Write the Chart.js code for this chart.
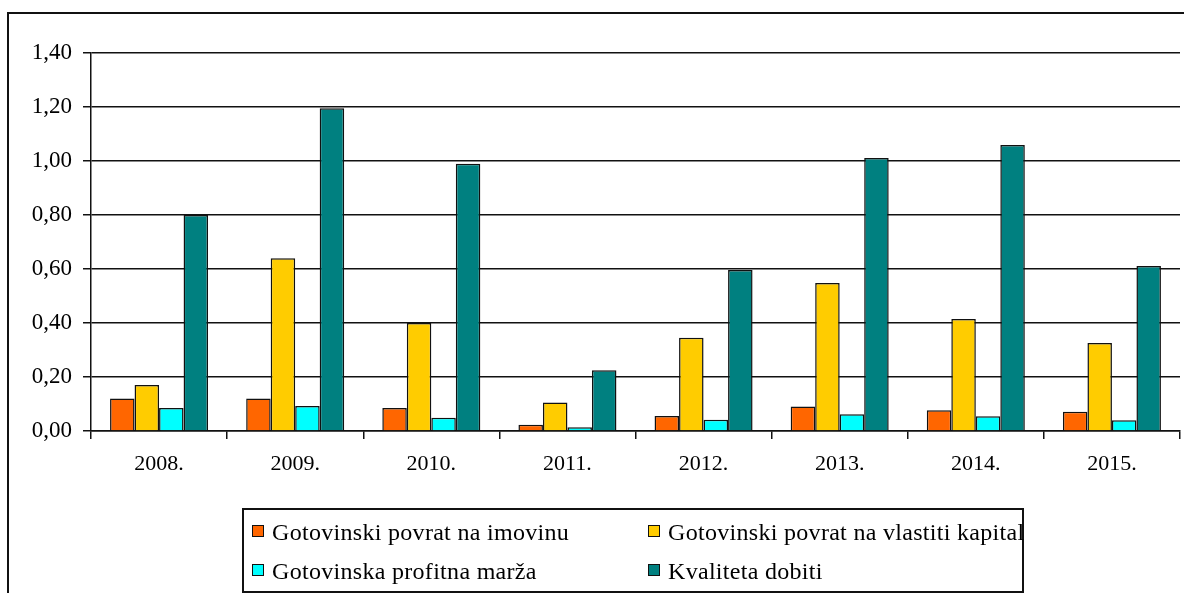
<!DOCTYPE html>
<html>
<head>
<meta charset="utf-8">
<script src="https://cdn.jsdelivr.net/npm/chart.js@4"></script>
<style>
    html, body { margin: 0; padding: 0; background: #fff; overflow: hidden; }
    #wrap { position: relative; width: 1184px; height: 593px; overflow: hidden; }
    #frame { position: absolute; left: 7px; top: 12px; width: 1250px; height: 650px; border: 2px solid #111; }
    #chart { position: absolute; left: 0; top: 0; }
    #legend { position: absolute; left: 242px; top: 508px; width: 778px; height: 81px; border: 2px solid #111; background: #fff;
              font-family: 'Liberation Serif', 'Times New Roman', serif; font-size: 24px; color: #000; }
    .item { position: absolute; white-space: nowrap; letter-spacing: 0.3px; }
    .box { position: absolute; width: 10px; height: 10px; border: 1.5px solid #111; }
</style>
</head>
<body>
<div id="wrap">
    <div id="frame"></div>
    <canvas id="chart" width="1184" height="593"></canvas>
    <div id="legend"></div>
</div>
<script>
const years = ['2008.', '2009.', '2010.', '2011.', '2012.', '2013.', '2014.', '2015.'];
const seriesNames = [
    'Gotovinski povrat na imovinu',
    'Gotovinski povrat na vlastiti kapital',
    'Gotovinska profitna marža',
    'Kvaliteta dobiti'
];
const povratImovina = [0.12, 0.12, 0.085, 0.023, 0.056, 0.091, 0.077, 0.071];
const povratKapital = [0.17, 0.64, 0.40, 0.106, 0.345, 0.548, 0.415, 0.326];
const profitnaMarza = [0.085, 0.093, 0.049, 0.014, 0.042, 0.062, 0.055, 0.040];
const kvalitetaDobiti = [0.80, 1.195, 0.99, 0.225, 0.596, 1.011, 1.059, 0.611];
const yTicks = [0, 0.2, 0.4, 0.6, 0.8, 1.0, 1.2, 1.4];
const colors = ['#FF6600', '#FFCC00', '#00FFFF', '#008080'];

const serif = "'Liberation Serif', 'Times New Roman', serif";
const allSeries = [povratImovina, povratKapital, profitnaMarza, kvalitetaDobiti];

new Chart(document.getElementById('chart'), {
    type: 'bar',
    data: {
        labels: years,
        datasets: allSeries.map(function (values, i) {
            return {
                label: seriesNames[i],
                data: values,
                backgroundColor: colors[i],
                borderColor: '#111',
                borderWidth: 1.5,
                borderSkipped: 'bottom',
                categoryPercentage: 0.72,
                barPercentage: 1.0
            };
        })
    },
    options: {
        responsive: false,
        animation: false,
        layout: { padding: { left: 0, right: 4, top: 53, bottom: 0 } },
        scales: {
            x: {
                grid: { display: true, drawOnChartArea: false, color: '#111', lineWidth: 1.5, tickLength: 8, offset: true },
                border: { display: true, color: '#111', width: 1.5 },
                ticks: { color: '#000', font: { family: serif, size: 22 }, padding: 12, maxRotation: 0 },
                afterFit: function (scale) { scale.height = 162; }
            },
            y: {
                min: 0,
                max: 1.4,
                afterBuildTicks: function (scale) {
                    scale.ticks = yTicks.map(function (v) { return { value: v }; });
                },
                grid: { color: '#111', lineWidth: 1.5, tickLength: 8 },
                border: { display: true, color: '#111', width: 1.5 },
                ticks: {
                    color: '#000',
                    font: { family: serif, size: 23 },
                    padding: 11,
                    callback: function (value) {
                        return Number(value).toFixed(2).replace('.', ',');
                    }
                },
                afterFit: function (scale) { scale.width = 91; }
            }
        },
        plugins: {
            legend: { display: false },
            tooltip: { enabled: false }
        }
    }
});

// legend: two columns, two rows, built from the series names and colours
const legend = document.getElementById('legend');
const colX = [8, 404];
const rowY = [21, 60];
seriesNames.forEach(function (name, i) {
    const col = i % 2;
    const row = Math.floor(i / 2);
    const box = document.createElement('div');
    box.className = 'box';
    box.style.left = colX[col] + 'px';
    box.style.top = (rowY[row] - 6) + 'px';
    box.style.background = colors[i];
    legend.appendChild(box);
    const text = document.createElement('div');
    text.className = 'item';
    text.textContent = name;
    text.style.left = (colX[col] + 20) + 'px';
    text.style.top = (rowY[row] - 13) + 'px';
    text.style.lineHeight = '28px';
    legend.appendChild(text);
});
</script>
</body>
</html>
